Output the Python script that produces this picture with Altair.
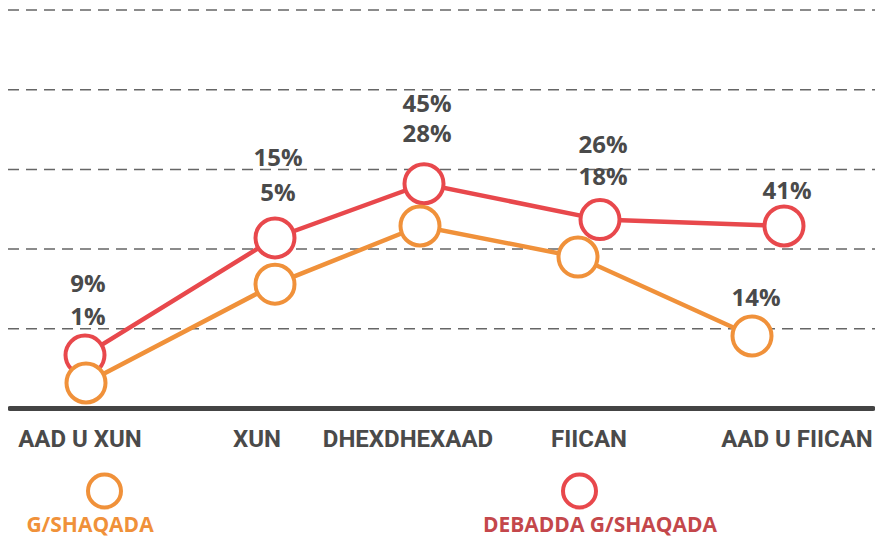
import altair as alt
import pandas as pd

# ---- data ----
categories = ["AAD U XUN", "XUN", "DHEXDHEXAAD", "FIICAN", "AAD U FIICAN"]
category_pos = [80, 257, 408, 589, 797]
red_x = [85, 275, 424, 600, 784]
orange_x = [86, 275, 420, 578, 752]
red_values = [6.7, 21.4, 28.2, 23.7, 22.9]
orange_values = [3.2, 15.6, 22.9, 19.0, 9.1]
red_labels = ["9%", "15%", "45%", "26%", "41%"]
orange_labels = ["1%", "5%", "28%", "18%", "14%"]
gridlines = [10, 20, 30, 40, 50]
series_names = ["G/SHAQADA", "DEBADDA G/SHAQADA"]
legend_pos = [104.5, 579.5]
legend_text_pos = [90, 600]

# ---- styling / layout ----
ORANGE = "#f0913a"
RED = "#e8484c"
RED_TEXT = "#c4474b"
TEXT = "#4a4a4a"
PCT_FONT = "Open Sans"
CAT_FONT = "Roboto"
top_off = [63, 72, 72, 67]   # px above red point for the upper label
bot_off = [30, 37, 42, 35]   # px above red point for the lower label
last_off = [27, 30]          # red, orange label above own point (last category)

PX = 7.97  # pixels per unit
W, H = 867, 529
XDOM = [8, 875]
YDOM = [(408.5 - 537) / PX, (408.5 - 8) / PX]

xs = alt.Scale(domain=XDOM, nice=False, zero=False)
ys = alt.Scale(domain=YDOM, nice=False, zero=False)

red_df = pd.DataFrame({"x": red_x, "v": red_values, "cat": categories})
orange_df = pd.DataFrame({"x": orange_x, "v": orange_values, "cat": categories})

rows = []
n = len(categories)
for i in range(n):
    if i < n - 1:
        rows.append({"x": red_x[i] + 3, "y": red_values[i] + top_off[i] / PX, "t": red_labels[i]})
        rows.append({"x": red_x[i] + 3, "y": red_values[i] + bot_off[i] / PX, "t": orange_labels[i]})
    else:
        rows.append({"x": red_x[i] + 3, "y": red_values[i] + last_off[0] / PX, "t": red_labels[i]})
        rows.append({"x": orange_x[i] + 4, "y": orange_values[i] + last_off[1] / PX, "t": orange_labels[i]})
label_df = pd.DataFrame(rows)

grid_df = pd.DataFrame({"g": gridlines})
cat_df = pd.DataFrame({"x": category_pos, "cat": categories})
leg_df = pd.DataFrame({"x": legend_pos, "tx": legend_text_pos, "name": series_names,
                       "c": [ORANGE, RED], "tc": [ORANGE, RED_TEXT]})

X = lambda f: alt.X(f, type="quantitative", scale=xs, axis=None)
Y = lambda f: alt.Y(f, type="quantitative", scale=ys, axis=None)

grid = alt.Chart(grid_df).mark_rule(color="#666666", strokeWidth=1.5, strokeDash=[11, 7]).encode(
    y=Y("g"), x=alt.value(0), x2=alt.value(W)
)
base = alt.Chart(pd.DataFrame({"b": [0]})).mark_rule(
    color="#444444", strokeWidth=5, strokeCap="round"
).encode(y=Y("b"), x=alt.value(2), x2=alt.value(W - 2))

red_line = alt.Chart(red_df).mark_line(color=RED, strokeWidth=4.5).encode(x=X("x"), y=Y("v"), order="x:Q")
red_pts = alt.Chart(red_df).mark_circle(fill="white", stroke=RED, strokeWidth=4, size=1521, opacity=1).encode(
    x=X("x"), y=Y("v"))
orange_line = alt.Chart(orange_df).mark_line(color=ORANGE, strokeWidth=4.5).encode(x=X("x"), y=Y("v"), order="x:Q")
orange_pts = alt.Chart(orange_df).mark_circle(fill="white", stroke=ORANGE, strokeWidth=4, size=1521, opacity=1).encode(
    x=X("x"), y=Y("v"))

labels = alt.Chart(label_df).mark_text(font=PCT_FONT, fontSize=24, fontWeight="bold", color=TEXT,
                                       align="center", baseline="alphabetic").encode(
    x=X("x"), y=Y("y"), text="t:N")

cat_text = alt.Chart(cat_df).mark_text(font=CAT_FONT, fontSize=24, fontWeight="bold", color=TEXT,
                                       align="center", baseline="alphabetic").encode(
    x=X("x"), y=alt.value(447 - 8), text="cat:N")

leg_circ = alt.Chart(leg_df).mark_circle(fill="white", strokeWidth=4, size=1089, opacity=1).encode(
    x=X("x"), y=alt.value(491 - 8), stroke=alt.Stroke("c:N", scale=None))
leg_text = alt.Chart(leg_df).mark_text(font=PCT_FONT, fontSize=21, fontWeight="bold",
                                       align="center", baseline="alphabetic").encode(
    x=X("tx"), y=alt.value(H - 5), text="name:N", color=alt.Color("tc:N", scale=None))

chart = alt.layer(grid, base, red_line, red_pts, orange_line, orange_pts, labels, cat_text, leg_circ, leg_text).properties(
    width=W, height=H, padding=0,
    autosize=alt.AutoSizeParams(type="none"),
).configure_view(stroke=None)

chart.save("out.html", embed_options={"renderer": "svg", "actions": False})
